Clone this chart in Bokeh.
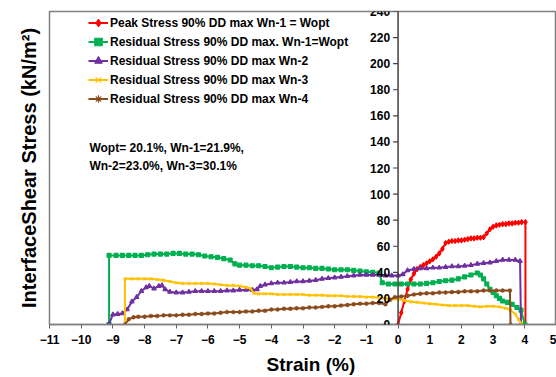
from bokeh.plotting import figure
from bokeh.models import (FixedTicker, Span, Title, Label, LabelSet, ColumnDataSource, Legend)
from bokeh.core.properties import value
from bokeh.embed import file_html
from bokeh.resources import INLINE
import numpy as np

FONT = "Liberation Sans"

# ---------------- data ----------------
red_x = [0, 0.1, 0.2, 0.3, 0.4, 0.5, 0.6, 0.7, 0.8, 0.9, 1.0, 1.1, 1.2, 1.3, 1.4, 1.5,
         1.6, 1.7, 1.8, 1.9, 2.0, 2.1, 2.2, 2.3, 2.4, 2.5, 2.6, 2.7, 2.8, 2.9, 3.0, 3.1, 3.2,
         3.3, 3.4, 3.5, 3.6, 3.7, 3.8, 3.9, 4.02, 4.02]
red_y = [0, 9, 18, 27, 34.5, 39, 42.5, 44, 45.5, 47, 48.5, 50, 52, 54.5, 58, 62.5,
         63.5, 64, 64, 64.5, 64.5, 65, 65.5, 66, 66, 66.5, 66.5, 67, 70, 73, 75, 76, 76.5,
         77, 77, 77.5, 77.5, 78, 78, 78.5, 78.5, 0]

green_x = [-9.12, -9.12, -8.9, -8.7, -8.5, -8.3, -8.1, -7.9, -7.7, -7.5, -7.3, -7.1, -6.9, -6.7,
           -6.5, -6.3, -6.1, -5.9, -5.7, -5.5, -5.3, -5.15, -5.0, -4.8, -4.6, -4.4, -4.2, -4.0,
           -3.8, -3.6, -3.4, -3.2, -3.0, -2.8, -2.6, -2.4, -2.2, -2.0, -1.8, -1.6, -1.4, -1.2,
           -1.0, -0.8, -0.6, -0.5, -0.3, -0.1, 0.1, 0.3, 0.5, 0.7, 0.9, 1.1, 1.3, 1.5, 1.7,
           1.9, 2.1, 2.3, 2.5, 2.6, 2.7, 2.8, 2.9, 3.0, 3.1, 3.2, 3.3, 3.45, 3.6, 3.75, 3.88, 4.0]
green_y = [0, 53, 53, 53, 53, 53, 53, 53.5, 54, 54, 54, 54.5, 54.5, 54,
           54, 53.5, 52.5, 52, 51.5, 50.5, 49.5, 46.5, 45.5, 45.5, 45, 45, 44.5, 43.5,
           44, 44.5, 44.5, 44, 43.5, 43.5, 43, 43, 42.5, 42, 42, 42, 41.5, 41,
           40.5, 40, 39.5, 32, 31, 31, 31, 31, 31, 31, 31.5, 32, 33, 33.5, 34,
           35, 36.5, 38, 39.5, 38, 35, 31, 27, 24.5, 22, 20, 18, 17, 15.5, 13, 11, 0]

purple_x = [-9.13, -9.0, -8.85, -8.7, -8.55, -8.4, -8.25, -8.1, -7.95, -7.85, -7.7, -7.55, -7.45,
            -7.35, -7.2, -7.0, -6.8, -6.6, -6.4, -6.2, -6.0, -5.8, -5.6, -5.4, -5.2, -5.0, -4.8,
            -4.6, -4.45, -4.35, -4.2, -4.0, -3.8, -3.6, -3.4, -3.2, -3.0, -2.8, -2.6, -2.4, -2.2,
            -2.0, -1.8, -1.6, -1.4, -1.2, -1.0, -0.8, -0.6, -0.4, -0.2, 0.0, 0.15, 0.3, 0.5, 0.7,
            0.9, 1.1, 1.3, 1.5, 1.7, 1.9, 2.1, 2.3, 2.5, 2.7, 2.9, 3.1, 3.3, 3.5, 3.7, 3.85, 3.88]
purple_y = [0, 7.5, 8, 8.5, 11.5, 17.5, 21, 25.5, 28.5, 29.5, 27.5, 29.5, 30,
            27, 25, 24.5, 24.5, 25, 25.5, 25.5, 25.5, 25.5, 25.5, 26, 26, 26.5, 26.5,
            26.5, 27, 29.5, 30.5, 31.5, 32, 32, 32.5, 33, 33, 33.5, 34, 35, 35.5,
            36, 36.5, 37, 37.5, 38, 38, 38, 38, 37.5, 37.5, 37.5, 38.5, 41.5, 42.5, 43,
            43, 43.5, 43.5, 44, 44.5, 44.5, 45, 45.5, 46.5, 47, 47.5, 48.5, 49.5, 49.5, 49.5, 48.5, 0]

yellow_x = [-8.62, -8.62, -8.4, -8.2, -8.0, -7.8, -7.6, -7.4, -7.2, -7.0, -6.8, -6.6, -6.4, -6.2,
            -6.0, -5.8, -5.6, -5.4, -5.2, -5.0, -4.8, -4.65, -4.55, -4.4, -4.2, -4.0, -3.8, -3.6,
            -3.4, -3.2, -3.0, -2.8, -2.6, -2.4, -2.2, -2.0, -1.8, -1.6, -1.4, -1.2, -1.0, -0.8,
            -0.6, -0.4, -0.2, 0.0, 0.2, 0.4, 0.6, 0.8, 1.0, 1.2, 1.4, 1.6, 1.8, 2.0, 2.2, 2.4,
            2.6, 2.8, 3.0, 3.2, 3.4, 3.55, 3.7, 3.8, 3.9]
yellow_y = [0, 35, 35, 35, 35, 35, 34.5, 34, 33, 32, 31.5, 31.5, 31.5, 31.5,
            31.5, 31, 30.5, 30, 30, 29.5, 28.5, 27.5, 24, 23.5, 23.5, 23.5, 23, 23,
            23, 23, 23, 22.5, 22.5, 22.5, 22, 22, 22, 21.5, 21.5, 21.5, 21, 21,
            20.5, 20, 19.5, 19.5, 18.5, 17.5, 17, 16.5, 16, 15.5, 15, 14.5, 14.5, 14.5, 14.5, 14,
            13.5, 14, 14, 13.5, 12.5, 11, 8, 4, 0.5]

brown_x = [-8.62, -8.5, -8.35, -8.2, -8.0, -7.8, -7.6, -7.4, -7.2, -7.0, -6.8, -6.6, -6.4, -6.2,
           -6.0, -5.8, -5.6, -5.4, -5.2, -5.0, -4.8, -4.6, -4.4, -4.2, -4.0, -3.8, -3.6, -3.4,
           -3.2, -3.0, -2.8, -2.6, -2.4, -2.2, -2.0, -1.8, -1.6, -1.4, -1.2, -1.0, -0.8, -0.6,
           -0.4, -0.25, -0.1, 0.1, 0.3, 0.5, 0.7, 0.9, 1.1, 1.3, 1.5, 1.7, 1.9, 2.1, 2.3, 2.5,
           2.7, 2.9, 3.1, 3.3, 3.53, 3.55]
brown_y = [0, 4, 5.5, 6, 6, 6.5, 6.5, 7, 7, 7, 7.5, 7.5, 8, 8,
           8.5, 8.5, 9, 9.5, 9.5, 9.5, 10, 10, 10.5, 10.5, 11.5, 11.5, 12, 12,
           12.5, 12.5, 13, 13, 13.5, 14, 14, 14.5, 15, 15.5, 16, 16, 16.5, 16.5,
           15.5, 19, 21, 21.5, 22, 23, 23.5, 24, 24, 24.5, 24.5, 25, 25, 25.5, 25.5, 25.5,
           26, 26, 26, 26, 26, 0]

series_names = ["Peak Stress 90% DD max Wn-1 = Wopt",
                "Residual Stress 90% DD max. Wn-1=Wopt",
                "Residual Stress 90% DD max Wn-2",
                "Residual Stress 90% DD max Wn-3",
                "Residual Stress 90% DD max Wn-4"]
x_ticks = list(range(-11, 6))
y_ticks = list(range(0, 241, 20))
note_lines = ["Wopt= 20.1%, Wn-1=21.9%,", "Wn-2=23.0%, Wn-3=30.1%"]
x_title = "Strain (%)"
y_title = "InterfaceShear Stress (kN/m²)"

# ---------------- figure ----------------
p = figure(width=556, height=377, x_range=(-11, 5), y_range=(0, 240),
           output_backend="svg", toolbar_location=None,
           min_border_left=49, min_border_right=0, min_border_top=11, min_border_bottom=52)
p.background_fill_color = "white"
p.border_fill_color = "white"
p.outline_line_color = "#808080"
p.outline_line_width = 1.5
p.xgrid.visible = False
p.ygrid.visible = False

# x axis
p.xaxis.ticker = FixedTicker(ticks=x_ticks)
p.xaxis.axis_line_color = "#808080"
p.xaxis.axis_line_width = 1.5
p.xaxis.major_tick_line_color = "#606060"
p.xaxis.major_tick_out = 4
p.xaxis.major_tick_in = 0
p.xaxis.minor_tick_line_color = None
p.xaxis.major_label_text_font = FONT
p.xaxis.major_label_text_font_style = "bold"
p.xaxis.major_label_text_font_size = "12px"
p.xaxis.major_label_text_color = "black"
p.xaxis.major_label_standoff = 6
# leading no-break spaces nudge the centred title a little to the right, as in the original
p.xaxis.axis_label = "\u00a0\u00a0\u00a0" + x_title
p.xaxis.axis_label_text_font = FONT
p.xaxis.axis_label_text_font_style = "bold"
p.xaxis.axis_label_text_font_size = "19px"
p.xaxis.axis_label_text_color = "black"
p.xaxis.axis_label_standoff = 7

# y axis drawn at x = 0
p.yaxis.visible = False
p.add_layout(Span(location=0, dimension="height", line_color="#404040", line_width=1.5))
p.ray(x=[0] * len(y_ticks), y=y_ticks, length=5, length_units="screen", angle=np.pi,
      line_color="#404040", line_width=1.2)
ysrc = ColumnDataSource(dict(x=[0] * len(y_ticks), y=y_ticks, t=[str(v) for v in y_ticks]))
p.add_layout(LabelSet(x="x", y="y", text="t", source=ysrc, x_offset=-8,
                      text_align="right", text_baseline="middle",
                      text_font=value(FONT), text_font_style="bold", text_font_size="12px",
                      text_color="black"))

p.add_layout(Title(text=y_title, align="center",
                   text_font=FONT, text_font_style="bold", text_font_size="20px",
                   text_color="black", standoff=20), "left")

# ---------------- series ----------------
series = [
    (red_x, red_y, "#FF0000", "diamond", 5),
    (green_x, green_y, "#00B050", "square", 4),
    (purple_x, purple_y, "#7030A0", "triangle", 4.5),
    (yellow_x, yellow_y, "#FFC000", "x", 4),
    (brown_x, brown_y, "#8B4A1C", "asterisk", 4.5),
]
items = []
for (xs, ys, col, mk, sz), name in zip(series, series_names):
    l = p.line(xs, ys, line_color=col, line_width=2)
    s = p.scatter(xs, ys, marker=mk, size=sz, line_color=col, fill_color=col, line_width=1.1)
    items.append((name, [l, s]))

legend = Legend(items=items, location=(39, 216), orientation="vertical",
                background_fill_alpha=0, border_line_color=None,
                label_text_font=FONT, label_text_font_style="bold", label_text_font_size="12px",
                label_text_color="black", glyph_width=20, glyph_height=19, label_height=19,
                label_standoff=2, spacing=0, padding=2, margin=0)
p.add_layout(legend)

for i, line in enumerate(note_lines):
    p.add_layout(Label(x=-9.74, y=135.2 - i * 13.6, text=line, text_align="left",
                       text_baseline="middle", text_font=FONT, text_font_style="bold",
                       text_font_size="12px", text_color="black"))

open("out.html", "w").write(file_html(p, INLINE))
